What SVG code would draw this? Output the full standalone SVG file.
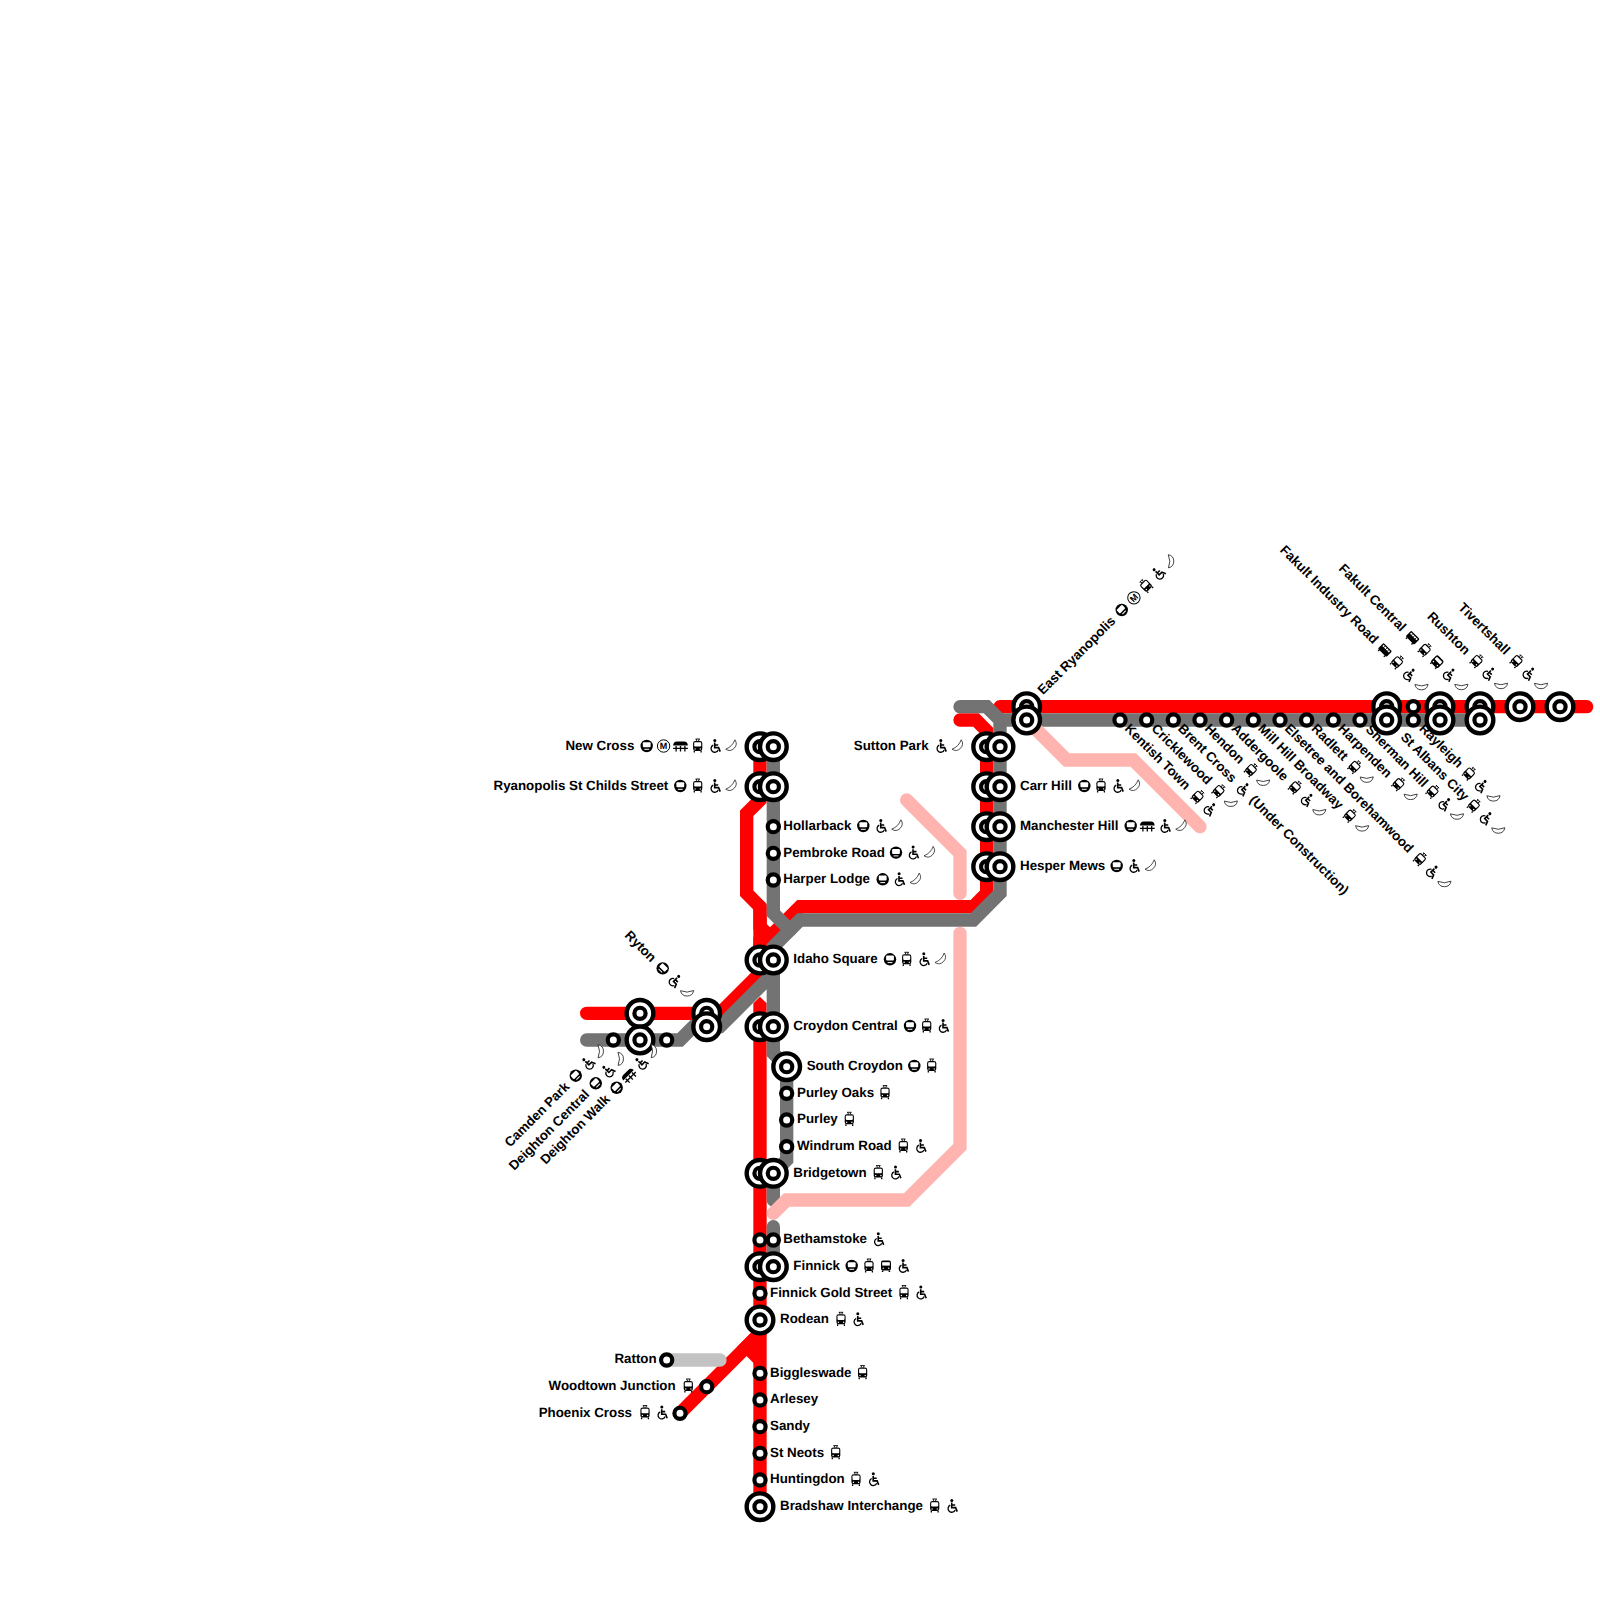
<svg xmlns="http://www.w3.org/2000/svg" width="1600" height="1600" viewBox="0 0 1600 1600">
<style>
text{font-family:"Liberation Sans",Arial,sans-serif;font-weight:700;font-size:13.33px;fill:#000;text-rendering:geometricPrecision}
.e{text-anchor:end}
.m{font-size:9px;text-anchor:middle}
.ln{fill:none;stroke-width:13.33;stroke-linecap:round;stroke-linejoin:miter}
.r{stroke:#f00}.g{stroke:#737373}.p{stroke:#ffb4b0}.q{stroke:#c3c3c3}
</style>
<defs>
<g id="big"><circle r="13.33" fill="#fff" stroke="#000" stroke-width="4.4"/><circle r="5.6" fill="#fff" stroke="#000" stroke-width="4.2"/></g>
<g id="sm"><circle r="5.6" fill="#fff" stroke="#000" stroke-width="4.2"/></g>
<g id="metro"><circle r="6.2"/><rect x="-3.9" y="-3.7" width="7.8" height="5" rx="1" fill="#fff"/><path d="M-2.4,3.3H2.4" stroke="#fff" stroke-width="1"/></g>
<g id="mm"><circle r="6.2" fill="#fff" stroke="#000" stroke-width="1"/></g>
<g id="cable"><path d="M-7.4,-.4Q-7,-4.4-3.6,-4.4H3.6Q7,-4.4 7.4,-.4Z"/><path d="M-7.4,2.4H7.4M-4.4,0V5.6M0,0V5.6M4.4,0V5.6" stroke="#000" stroke-width="1.3" fill="none"/></g>
<g id="tram"><path d="M-2.2,-7H2.2M-1.6,-7L-.8,-5M1.6,-7L.8,-5" stroke="#000" stroke-width=".9" fill="none"/><rect x="-4.6" y="-5" width="9.2" height="10" rx="2.2"/><rect x="-3.5" y="-3.8" width="7" height="4.4" rx=".8" fill="#fff"/><path d="M-3.4,5V6.6M3.4,5V6.6" stroke="#000" stroke-width="1.3"/><circle cx="-2.6" cy="2.9" r=".7" fill="#fff"/><circle cx="2.6" cy="2.9" r=".7" fill="#fff"/></g>
<g id="bus"><rect x="-5" y="-5.4" width="10" height="10" rx="2"/><rect x="-3.8" y="-3.8" width="7.6" height="3.4" fill="#fff"/><path d="M-3.4,4.6V6M3.4,4.6V6" stroke="#000" stroke-width="1.5"/><circle cx="-2.8" cy="2.2" r=".7" fill="#fff"/><circle cx="2.8" cy="2.2" r=".7" fill="#fff"/></g>
<g id="rail"><rect x="-6" y="-4" width="12" height="8" rx="1.2"/><path d="M-4.6,-1.8H4.6" stroke="#fff" stroke-width="1.8"/><path d="M-2.6,-3.6V0M0,-3.6V0M2.6,-3.6V0" stroke="#000" stroke-width=".8"/><path d="M-4,4V5.6M4,4V5.6" stroke="#000" stroke-width="1.4"/></g>
<g id="acc"><circle cx="-.2" cy="-5.6" r="1.5"/><path d="M-.3,-3.4V1.6H3.6L5.2,5.6M-.3,-1H3.2" stroke="#000" stroke-width="1.6" fill="none"/><path d="M-1.8,-.8A3.7,3.7 0 1 0 3.2,3.9" stroke="#000" stroke-width="1.3" fill="none"/></g>
<g id="moon"><path d="M3.2,-6.2A6.7,6.7 0 0 1-6,3.2A16,16 0 0 0 3.2,-6.2Z" fill="#fff" stroke="#222" stroke-width=".8"/></g>
</defs>
<g id="connectors">
<path class="ln r" d="M760,746.67V800L746.67,813.33V893.33L760,906.67V926.67L766.67,933.33L760,940V960"/>
<path class="ln r" d="M760,906.67V960"/>
<path class="ln r" d="M960,720H976L986.67,730.67V893.33L973.33,906.67H800L760,946.67V973.33L720,1013.33H586.67"/>
<path class="ln r" d="M1000,706.67H1586.67"/>
<path d="M753.33,1003.33L760,996.67L766.67,1003.33V1030H753.33Z" fill="#f00"/>
<path class="ln r" d="M760,1026.67V1506.67"/>
<path class="ln r" d="M760,1333.33L746.67,1346.67L760,1360" style="stroke-linecap:butt"/>
<path class="ln r" d="M680,1413.33L760,1333.33"/>
<path class="ln g" d="M960,706.67H986.67L1000,720V893.33L973.33,920H800L773.33,946.67V1053.33L786.67,1066.67V1160L773.33,1173.33V1200"/>
<path class="ln g" d="M1000,720H1480"/>
<path class="ln g" d="M773.33,746.67V913.33L790,930"/>
<path class="ln g" d="M586.67,1040H680L693.33,1026.67H720L773.33,973.33"/>
<path class="ln g" d="M773.33,1226.67V1266.67"/>
<path class="ln p" d="M1026.67,720L1066.67,760H1133.33L1200,826.67"/>
<path class="ln p" d="M906.67,800L960,853.33V893.33"/>
<path class="ln p" d="M960,933.33V1146.67L906.67,1200H786.67L773.33,1213.33"/>
<path class="ln q" d="M666.67,1360H720"/>
</g>
<g id="new-cross"><use href="#big" x="760" y="746.67"/><use href="#big" x="773.33" y="746.67"/><text class="e" x="634.3" y="750">New Cross</text><use href="#metro" x="646.7" y="746"/><use href="#mm" x="663.6" y="746"/><text class="m" x="663.6" y="749.2">M</text><use href="#cable" x="680.5" y="746"/><use href="#tram" x="697.7" y="746"/><use href="#acc" x="715" y="746"/><use href="#moon" x="731.7" y="746"/></g>
<g id="ryanopolis"><use href="#big" x="760" y="786.67"/><use href="#big" x="773.33" y="786.67"/><text class="e" x="668.3" y="790">Ryanopolis St Childs Street</text><use href="#metro" x="680.3" y="786"/><use href="#tram" x="697.7" y="786"/><use href="#acc" x="715" y="786"/><use href="#moon" x="731.7" y="786"/></g>
<g id="hollarback"><use href="#sm" x="773.33" y="826.67"/><text x="783.3" y="830">Hollarback</text><use href="#metro" x="863.3" y="826"/><use href="#acc" x="881" y="826"/><use href="#moon" x="897.7" y="826"/></g>
<g id="pembroke"><use href="#sm" x="773.33" y="853.33"/><text x="783.3" y="856.67">Pembroke Road</text><use href="#metro" x="896" y="852.6"/><use href="#acc" x="913.3" y="852.6"/><use href="#moon" x="930" y="852.6"/></g>
<g id="harper"><use href="#sm" x="773.33" y="880"/><text x="783.3" y="883.33">Harper Lodge</text><use href="#metro" x="882.7" y="879.3"/><use href="#acc" x="899.3" y="879.3"/><use href="#moon" x="916" y="879.3"/></g>
<g id="idaho"><use href="#big" x="760" y="960"/><use href="#big" x="773.33" y="960"/><text x="793.3" y="963.33">Idaho Square</text><use href="#metro" x="890" y="959.3"/><use href="#tram" x="906.7" y="959.3"/><use href="#acc" x="924" y="959.3"/><use href="#moon" x="941" y="959.3"/></g>
<g id="croydon"><use href="#big" x="760" y="1026.67"/><use href="#big" x="773.33" y="1026.67"/><text x="793.3" y="1030">Croydon Central</text><use href="#metro" x="910" y="1026"/><use href="#tram" x="926.7" y="1026"/><use href="#acc" x="943.3" y="1026"/></g>
<g id="south-croydon"><use href="#big" x="786.67" y="1066.67"/><text x="806.67" y="1070">South Croydon</text><use href="#metro" x="914.3" y="1066"/><use href="#tram" x="931.7" y="1066"/></g>
<g id="purley-oaks"><use href="#sm" x="786.67" y="1093.33"/><text x="797" y="1096.67">Purley Oaks</text><use href="#tram" x="885" y="1092.6"/></g>
<g id="purley"><use href="#sm" x="786.67" y="1120"/><text x="797" y="1123.33">Purley</text><use href="#tram" x="849.3" y="1119.3"/></g>
<g id="windrum"><use href="#sm" x="786.67" y="1146.67"/><text x="797" y="1150">Windrum Road</text><use href="#tram" x="903.3" y="1146"/><use href="#acc" x="920.7" y="1146"/></g>
<g id="bridgetown"><use href="#big" x="760" y="1173.33"/><use href="#big" x="773.33" y="1173.33"/><text x="793.3" y="1176.67">Bridgetown</text><use href="#tram" x="878.3" y="1172.6"/><use href="#acc" x="895.7" y="1172.6"/></g>
<g id="bethamstoke"><use href="#sm" x="760" y="1240"/><use href="#sm" x="773.33" y="1240"/><text x="783.3" y="1243.33">Bethamstoke</text><use href="#acc" x="878.5" y="1239.3"/></g>
<g id="finnick"><use href="#big" x="760" y="1266.67"/><use href="#big" x="773.33" y="1266.67"/><text x="793.3" y="1270">Finnick</text><use href="#metro" x="851.7" y="1266"/><use href="#tram" x="869" y="1266"/><use href="#bus" x="886" y="1266"/><use href="#acc" x="903.3" y="1266"/></g>
<g id="finnick-gold"><use href="#sm" x="760" y="1293.33"/><text x="770" y="1296.67">Finnick Gold Street</text><use href="#tram" x="904" y="1292.6"/><use href="#acc" x="921" y="1292.6"/></g>
<g id="rodean"><use href="#big" x="760" y="1320"/><text x="780" y="1323.33">Rodean</text><use href="#tram" x="841" y="1319.3"/><use href="#acc" x="858" y="1319.3"/></g>
<g id="biggleswade"><use href="#sm" x="760" y="1373.33"/><text x="770" y="1376.67">Biggleswade</text><use href="#tram" x="862.6" y="1372.6"/></g>
<g id="arlesey"><use href="#sm" x="760" y="1400"/><text x="770" y="1403.33">Arlesey</text></g>
<g id="sandy"><use href="#sm" x="760" y="1426.67"/><text x="770" y="1430">Sandy</text></g>
<g id="st-neots"><use href="#sm" x="760" y="1453.33"/><text x="770" y="1456.67">St Neots</text><use href="#tram" x="835.7" y="1452.6"/></g>
<g id="huntingdon"><use href="#sm" x="760" y="1480"/><text x="770" y="1483.33">Huntingdon</text><use href="#tram" x="856" y="1479.3"/><use href="#acc" x="873.5" y="1479.3"/></g>
<g id="bradshaw"><use href="#big" x="760" y="1506.67"/><text x="780" y="1510">Bradshaw Interchange</text><use href="#tram" x="934.7" y="1506"/><use href="#acc" x="952" y="1506"/></g>
<g id="ratton"><use href="#sm" x="666.67" y="1360"/><text class="e" x="656.67" y="1363.33">Ratton</text></g>
<g id="woodtown"><use href="#sm" x="706.67" y="1386.67"/><text class="e" x="675.67" y="1390">Woodtown Junction</text><use href="#tram" x="688.3" y="1386"/></g>
<g id="phoenix"><use href="#sm" x="680" y="1413.33"/><text class="e" x="632" y="1416.67">Phoenix Cross</text><use href="#tram" x="645" y="1412.6"/><use href="#acc" x="662" y="1412.6"/></g>
<g id="sutton-park"><use href="#big" x="986.67" y="746.67"/><use href="#big" x="1000" y="746.67"/><text class="e" x="928.6" y="750">Sutton Park</text><use href="#acc" x="941" y="746"/><use href="#moon" x="958" y="746"/></g>
<g id="carr-hill"><use href="#big" x="986.67" y="786.67"/><use href="#big" x="1000" y="786.67"/><text x="1020" y="790">Carr Hill</text><use href="#metro" x="1084.3" y="786"/><use href="#tram" x="1101" y="786"/><use href="#acc" x="1118" y="786"/><use href="#moon" x="1135" y="786"/></g>
<g id="manchester-hill"><use href="#big" x="986.67" y="826.67"/><use href="#big" x="1000" y="826.67"/><text x="1020" y="830">Manchester Hill</text><use href="#metro" x="1130.7" y="826"/><use href="#cable" x="1147.3" y="826"/><use href="#acc" x="1165" y="826"/><use href="#moon" x="1181.7" y="826"/></g>
<g id="hesper-mews"><use href="#big" x="986.67" y="866.67"/><use href="#big" x="1000" y="866.67"/><text x="1020" y="870">Hesper Mews</text><use href="#metro" x="1116.7" y="866"/><use href="#acc" x="1134" y="866"/><use href="#moon" x="1151" y="866"/></g>
<g id="ryton"><use href="#big" x="706.67" y="1013.33"/><use href="#big" x="706.67" y="1026.67"/><g transform="translate(624.1,936.1) rotate(45)"><text>Ryton</text><use href="#metro" x="50.1" y="-4.5"/><use href="#acc" x="67.3" y="-4.5"/><use href="#moon" x="84.5" y="-4.5"/></g></g>
<g id="camden-park"><use href="#sm" x="613.33" y="1040"/><g transform="translate(510,1147.8) rotate(-45)"><text>Camden Park</text><use href="#metro" x="97.5" y="-4.5"/><use href="#acc" x="114.7" y="-4.5"/><use href="#moon" x="131.9" y="-4.5"/></g></g>
<g id="deighton-central"><use href="#big" x="640" y="1013.33"/><use href="#big" x="640" y="1040"/><g transform="translate(514.3,1171.1) rotate(-45)"><text>Deighton Central</text><use href="#metro" x="119.7" y="-4.5"/><use href="#acc" x="136.9" y="-4.5"/><use href="#moon" x="154.1" y="-4.5"/></g></g>
<g id="deighton-walk"><use href="#sm" x="666.67" y="1040"/><g transform="translate(545.7,1165.1) rotate(-45)"><text>Deighton Walk</text><use href="#metro" x="104.9" y="-4.5"/><use href="#cable" x="122.1" y="-4.5"/><use href="#acc" x="139.3" y="-4.5"/><use href="#moon" x="156.5" y="-4.5"/></g></g>
<g id="east-ryanopolis"><use href="#big" x="1026.67" y="706.67"/><use href="#big" x="1026.67" y="720"/><g transform="translate(1042.9,695.2) rotate(-45)"><text>East Ryanopolis</text><use href="#metro" x="116" y="-4.5"/><use href="#mm" x="133.2" y="-4.5"/><text class="m" x="133.2" y="-1.3">M</text><use href="#tram" x="150.4" y="-4.5"/><use href="#acc" x="167.6" y="-4.5"/><use href="#moon" x="184.8" y="-4.5"/></g></g>
<g id="kentish-town"><use href="#sm" x="1120" y="720"/><g transform="translate(1124,729.33) rotate(45)"><text>Kentish Town</text><use href="#tram" x="99.7" y="-4.5"/><use href="#acc" x="116.9" y="-4.5"/></g></g>
<g id="cricklewood"><use href="#sm" x="1146.67" y="720"/><g transform="translate(1150.67,729.33) rotate(45)"><text>Cricklewood</text><use href="#tram" x="91.6" y="-4.5"/><use href="#moon" x="108.8" y="-4.5"/></g></g>
<g id="brent-cross"><use href="#sm" x="1173.33" y="720"/><g transform="translate(1177.33,729.33) rotate(45)"><text>Brent Cross</text><use href="#acc" x="88.6" y="-4.5"/><text x="101">(Under Construction)</text></g></g>
<g id="hendon"><use href="#sm" x="1200" y="720"/><g transform="translate(1204,729.33) rotate(45)"><text>Hendon</text><use href="#tram" x="61.9" y="-4.5"/><use href="#moon" x="79.1" y="-4.5"/></g></g>
<g id="addergoole"><use href="#sm" x="1226.67" y="720"/><g transform="translate(1230.67,729.33) rotate(45)"><text>Addergoole</text><use href="#tram" x="86.4" y="-4.5"/><use href="#acc" x="103.6" y="-4.5"/><use href="#moon" x="120.8" y="-4.5"/></g></g>
<g id="mill-hill-broadway"><use href="#sm" x="1253.33" y="720"/><g transform="translate(1257.33,729.33) rotate(45)"><text>Mill Hill Broadway</text><use href="#tram" x="126.4" y="-4.5"/><use href="#moon" x="143.6" y="-4.5"/></g></g>
<g id="elsetree"><use href="#sm" x="1280" y="720"/><g transform="translate(1284,729.33) rotate(45)"><text>Elsetree and Borehamwood</text><use href="#tram" x="187.9" y="-4.5"/><use href="#acc" x="205.1" y="-4.5"/><use href="#moon" x="222.3" y="-4.5"/></g></g>
<g id="radlett"><use href="#sm" x="1306.67" y="720"/><g transform="translate(1310.67,729.33) rotate(45)"><text>Radlett</text><use href="#tram" x="57.5" y="-4.5"/><use href="#moon" x="74.7" y="-4.5"/></g></g>
<g id="harpenden"><use href="#sm" x="1333.33" y="720"/><g transform="translate(1337.33,729.33) rotate(45)"><text>Harpenden</text><use href="#tram" x="81.9" y="-4.5"/><use href="#moon" x="99.1" y="-4.5"/></g></g>
<g id="sherman-hill"><use href="#sm" x="1360" y="720"/><g transform="translate(1365,730.3) rotate(45)"><text>Sherman Hill</text><use href="#tram" x="91.1" y="-4.5"/><use href="#acc" x="108.3" y="-4.5"/><use href="#moon" x="125.5" y="-4.5"/></g></g>
<g id="st-albans"><use href="#big" x="1386.67" y="706.67"/><use href="#big" x="1386.67" y="720"/><g transform="translate(1400,738) rotate(45)"><text>St Albans City</text><use href="#tram" x="100" y="-4.5"/><use href="#acc" x="117.2" y="-4.5"/><use href="#moon" x="134.4" y="-4.5"/></g></g>
<g id="rayleigh"><use href="#sm" x="1413.33" y="706.67"/><use href="#sm" x="1413.33" y="720"/><g transform="translate(1418.5,729.2) rotate(45)"><text>Rayleigh</text><use href="#tram" x="67" y="-4.5"/><use href="#acc" x="84.2" y="-4.5"/><use href="#moon" x="101.4" y="-4.5"/></g></g>
<g id="fakult-industry-road"><use href="#big" x="1440" y="706.67"/><use href="#big" x="1440" y="720"/><g transform="translate(1279.3,550.7) rotate(45)"><text>Fakult Industry Road</text><use href="#rail" x="144.9" y="-4.5"/><use href="#tram" x="162.1" y="-4.5"/><use href="#acc" x="179.3" y="-4.5"/><use href="#moon" x="196.5" y="-4.5"/></g></g>
<g id="fakult-central"><use href="#big" x="1480" y="706.67"/><use href="#big" x="1480" y="720"/><g transform="translate(1337.9,569.3) rotate(45)"><text>Fakult Central</text><use href="#rail" x="101.2" y="-4.5"/><use href="#tram" x="118.4" y="-4.5"/><use href="#bus" x="135.6" y="-4.5"/><use href="#acc" x="152.8" y="-4.5"/><use href="#moon" x="170" y="-4.5"/></g></g>
<g id="rushton"><use href="#big" x="1520" y="706.67"/><g transform="translate(1426.5,617.2) rotate(45)"><text>Rushton</text><use href="#tram" x="66.4" y="-4.5"/><use href="#acc" x="83.6" y="-4.5"/><use href="#moon" x="100.8" y="-4.5"/></g></g>
<g id="tivertshall"><use href="#big" x="1560" y="706.67"/><g transform="translate(1457.6,608.3) rotate(45)"><text>Tivertshall</text><use href="#tram" x="79" y="-4.5"/><use href="#acc" x="96.2" y="-4.5"/><use href="#moon" x="113.4" y="-4.5"/></g></g>
</svg>
